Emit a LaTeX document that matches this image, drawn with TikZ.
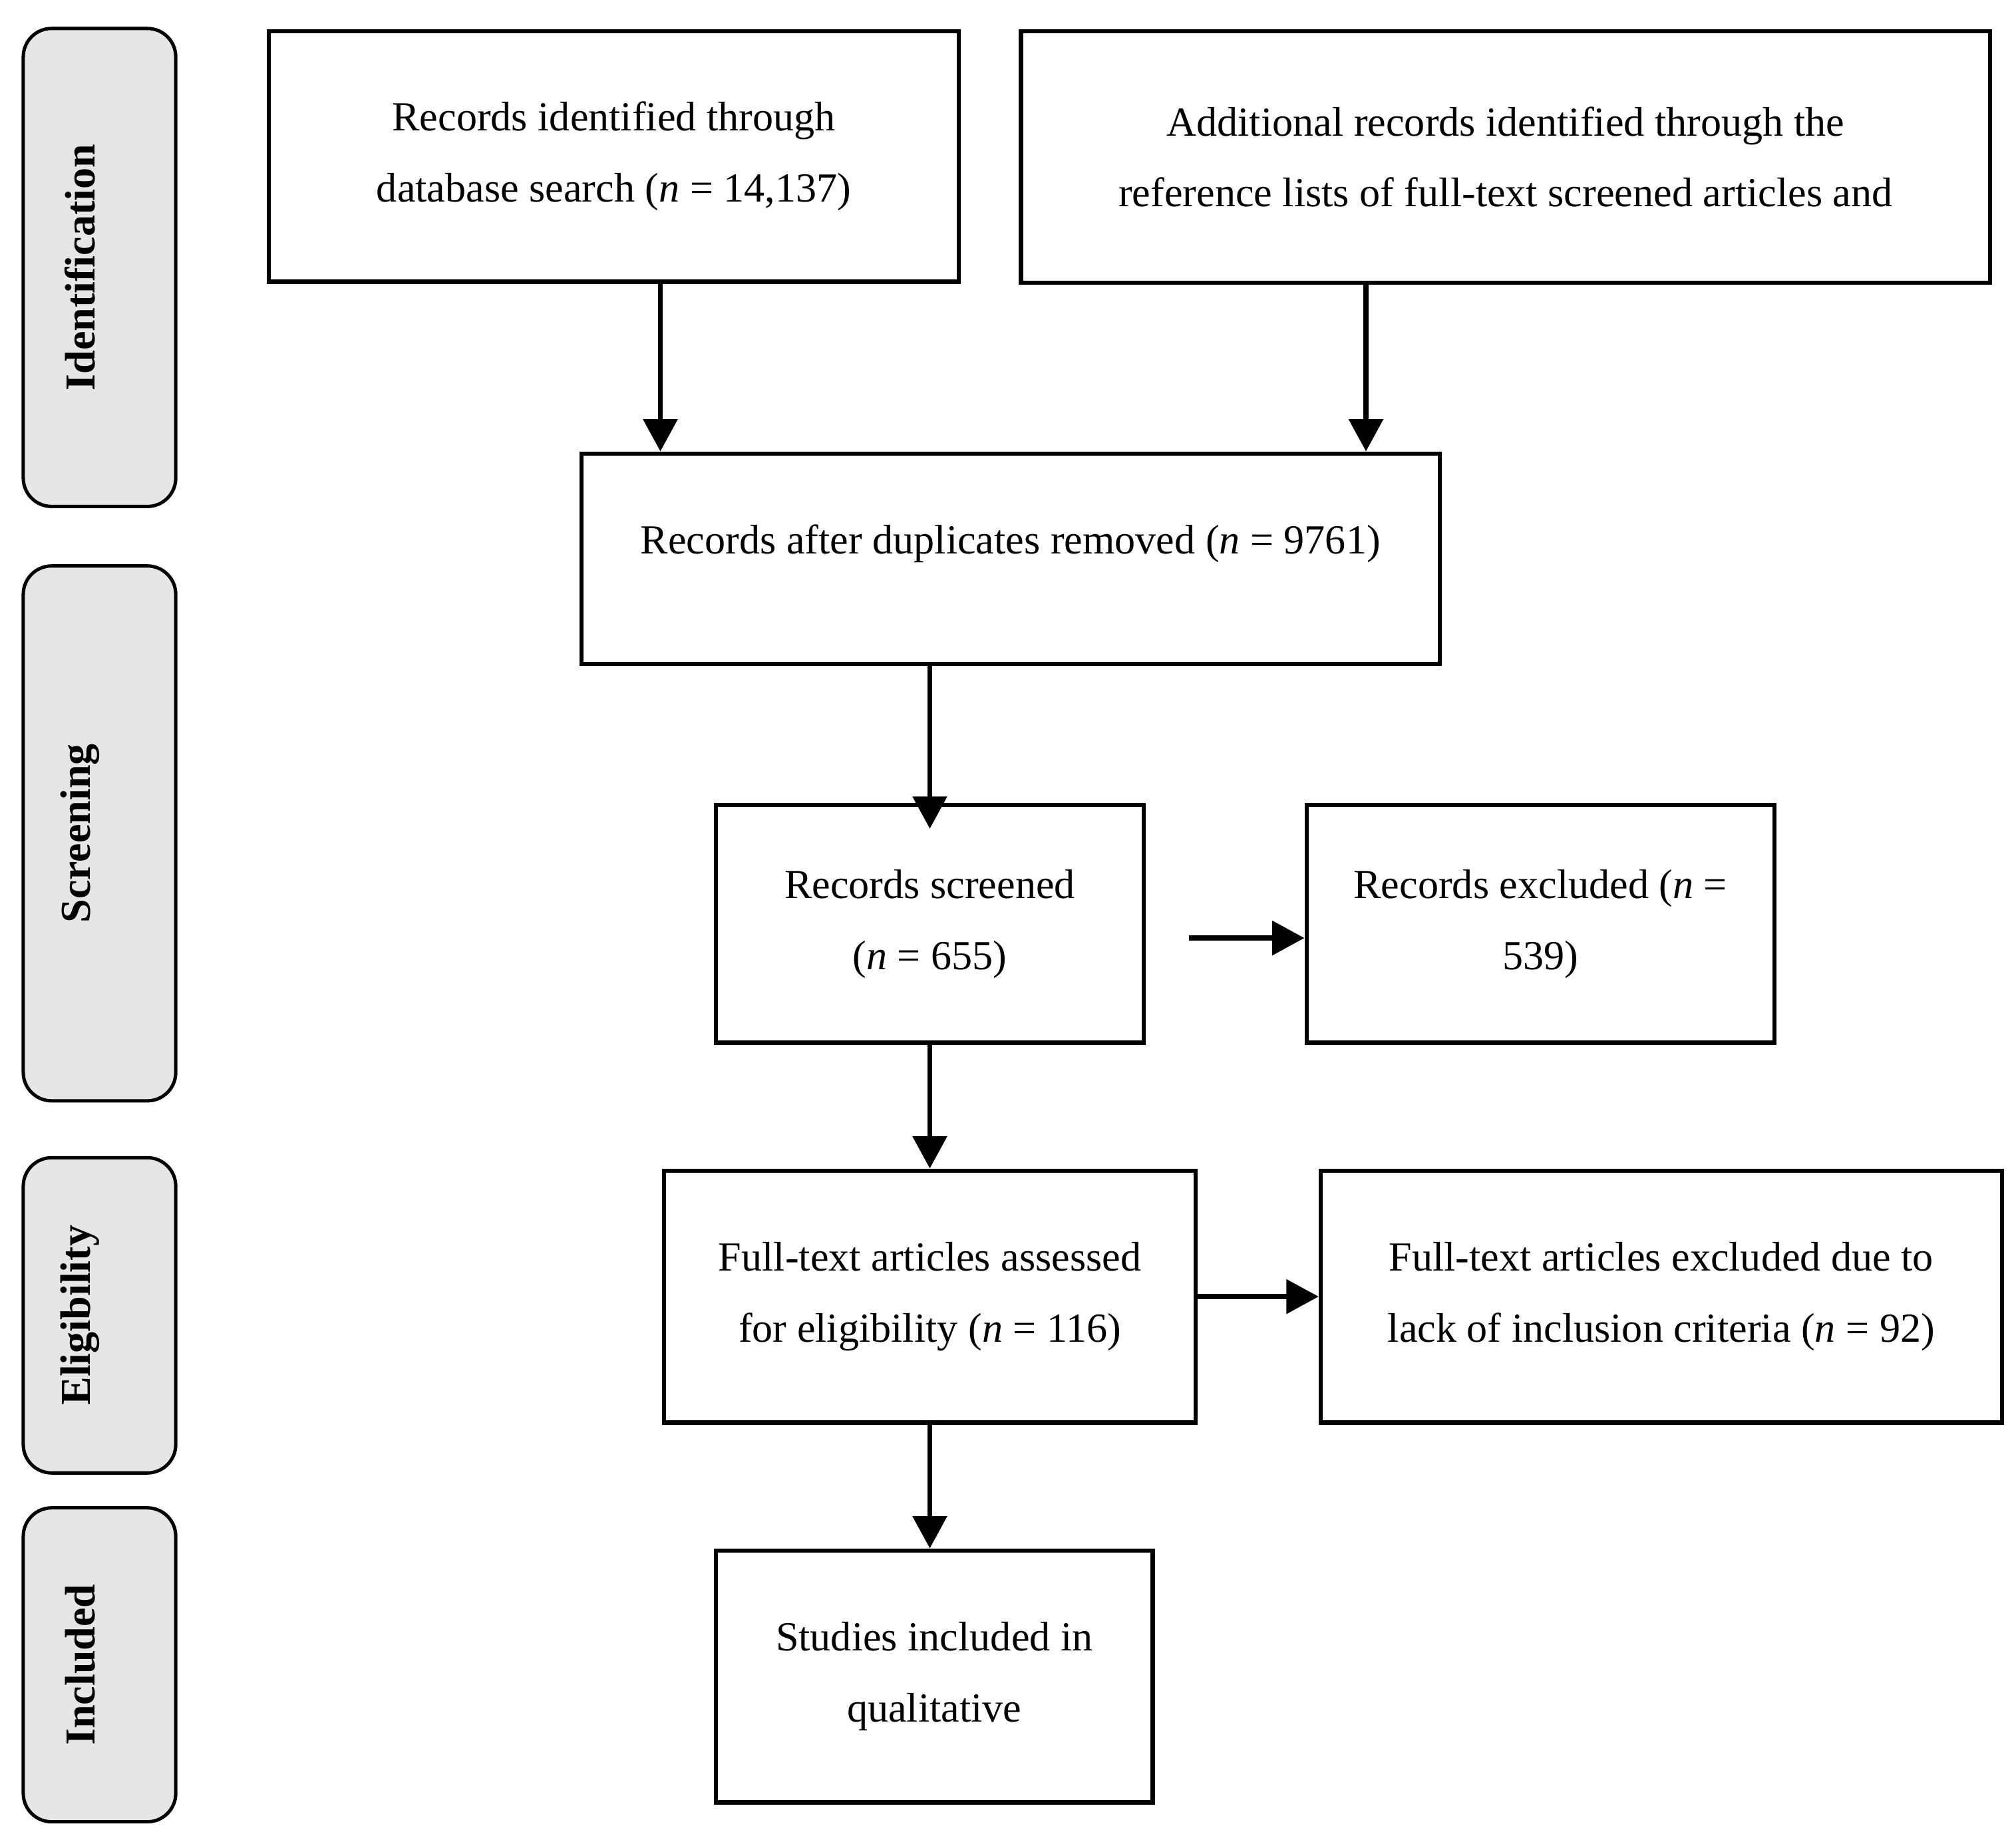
\documentclass[tikz,border=0pt]{standalone}
\usepackage{fontspec}
\setmainfont{Liberation Serif}
\usetikzlibrary{arrows.meta}
\definecolor{tagfill}{HTML}{E6E6E6}
\begin{document}
\begin{tikzpicture}[x=0.5pt,y=-0.5pt,
  box/.style={draw, line width=1.6pt, inner sep=0pt, align=center,
    font=\fontsize{16}{27.5}\selectfont},
  txt/.style={inner sep=0pt, align=center, font=\fontsize{16}{27.5}\selectfont},
  tag/.style={draw, line width=1.3pt, rounded corners=11pt, fill=tagfill,
    minimum width=59pt, inner sep=0pt},
  tagtext/.style={inner sep=0pt, rotate=90, font=\fontsize{16.5}{18}\selectfont\bfseries},
  arr/.style={line width=2pt, -{Triangle[length=12.5pt,width=13pt]}}]
\useasboundingbox (0,0) rectangle (1560,1419.4);
% stage tags
\node[tag, minimum height=185pt] (T1) at (77,207) {};
\node[tag, minimum height=207pt] (T2) at (77,645) {};
\node[tag, minimum height=122pt] (T3) at (77,1018) {};
\node[tag, minimum height=121.5pt] (T4) at (77,1288.5) {};
\node[tagtext] (T1t) at (62,207) {Identification};
\node[tagtext] (T2t) at (62,645) {Screening};
\node[tagtext] (T3t) at (62,1018) {Eligibility};
\node[tagtext] (T4t) at (62,1288.5) {Included};
% boxes
\node[box, minimum width=267pt, minimum height=97pt] (A) at (475,121)
  {Records identified through\\database search (\textit{n} = 14,137)};
\node[box, minimum width=375pt, minimum height=97.5pt] (B) at (1165,121.5)
  {Additional records identified through the\\reference lists of full-text screened articles and};
\node[box, minimum width=332pt, minimum height=81.5pt] (C) at (782,432.5) {};
\node[txt] (Ct) at (782,421) {Records after duplicates removed (\textit{n} = 9761)};
\node[box, minimum width=165.5pt, minimum height=92pt] (D) at (719.5,715)
  {Records screened\\(\textit{n} = 655)};
\node[box, minimum width=181pt, minimum height=92pt] (E) at (1192,715)
  {Records excluded (\textit{n} =\\539)};
\node[box, minimum width=205.5pt, minimum height=97.5pt] (F) at (719.5,1003.5)
  {Full-text articles assessed\\for eligibility (\textit{n} = 116)};
\node[box, minimum width=263.5pt, minimum height=97.5pt] (G) at (1285.5,1003.5)
  {Full-text articles excluded due to\\lack of inclusion criteria (\textit{n} = 92)};
\node[box, minimum width=169pt, minimum height=97.5pt] (H) at (723,1297.5)
  {Studies included in\\qualitative};
% connectors
\coordinate (xA) at (511,0);
\coordinate (xB) at (1057,0);
\coordinate (de) at (920,726);
\draw[arr] (A.south -| xA) -- (C.north -| xA);
\draw[arr] (B.south -| xB) -- (C.north -| xB);
\draw[arr] (C.south -| D.north) -- ([yshift=-10pt]D.north);
\draw[arr] (D.south) -- (F.north);
\draw[arr] (de) -- (de -| E.west);
\draw[arr] (F.east) -- (G.west);
\draw[arr] (F.south -| D.south) -- (H.north -| D.south);
\end{tikzpicture}
\end{document}
